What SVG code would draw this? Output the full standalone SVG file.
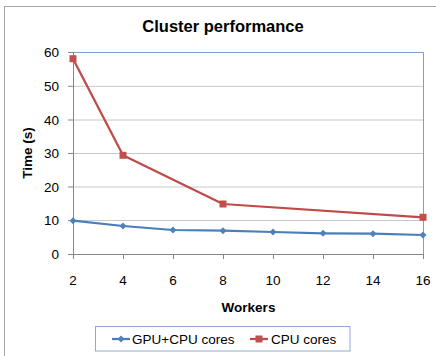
<svg xmlns="http://www.w3.org/2000/svg" width="436" height="356" viewBox="0 0 436 356">
  <style>
    .lbl { font-family: "Liberation Sans", Arial, sans-serif; font-size: 13.5px; fill: #000; }
    .bold { font-weight: bold; }
    .grid { stroke: #C8C8C8; stroke-width: 1; }
    .axis { stroke: #868686; stroke-width: 1; fill: none; }
    .frame { stroke: #7E9ED0; stroke-width: 1; fill: none; }
    .gpu { stroke: #4A7EBB; stroke-width: 2.25; fill: none; stroke-linejoin: round; }
    .cpu { stroke: #BE4B48; stroke-width: 2.25; fill: none; stroke-linejoin: round; }
  </style>
  <defs>
    <marker id="diamond" viewBox="-4 -4 8 8" markerWidth="8" markerHeight="8" markerUnits="userSpaceOnUse" refX="0" refY="0">
      <path d="M0,-3.5 L3.5,0 L0,3.5 L-3.5,0 Z" fill="#4F81BD"/>
    </marker>
    <marker id="square" viewBox="-4 -4 8 8" markerWidth="8" markerHeight="8" markerUnits="userSpaceOnUse" refX="0" refY="0">
      <rect x="-3.5" y="-3.5" width="7" height="7" fill="#C0504D"/>
    </marker>
  </defs>

  <rect x="0" y="0" width="436" height="356" fill="#fff"/>
  <!-- chart border -->
  <rect x="4.5" y="6.5" width="440" height="360" fill="none" stroke="#A6A6A6" stroke-width="1"/>

  <text class="lbl bold" x="223" y="32" text-anchor="middle" style="font-size:16.5px">Cluster performance</text>

  <!-- gridlines -->
  <g id="gridlines">
    <line class="grid" x1="73" y1="86.3" x2="423" y2="86.3"/>
    <line class="grid" x1="73" y1="120" x2="423" y2="120"/>
    <line class="grid" x1="73" y1="153.5" x2="423" y2="153.5"/>
    <line class="grid" x1="73" y1="187" x2="423" y2="187"/>
    <line class="grid" x1="73" y1="220.5" x2="423" y2="220.5"/>
  </g>

  <!-- plot frame -->
  <path class="frame" d="M73,52.5 H423.5 V254"/>

  <!-- axes with ticks -->
  <g id="axes">
    <path class="axis" d="M73.5,52 V254.5 H423"/>
    <path class="axis" d="M68,52.5 H73 M68,86.3 H73 M68,120 H73 M68,153.5 H73 M68,187 H73 M68,220.5 H73 M68,254.5 H73"/>
    <path class="axis" d="M73.5,254 V259 M123.5,254 V259 M173.5,254 V259 M223.5,254 V259 M273.5,254 V259 M323.5,254 V259 M373.5,254 V259 M423.5,254 V259"/>
  </g>

  <!-- y tick labels -->
  <g id="y-labels" class="lbl" text-anchor="end">
    <text x="59" y="57">60</text>
    <text x="59" y="91">50</text>
    <text x="59" y="124.5">40</text>
    <text x="59" y="158">30</text>
    <text x="59" y="191.5">20</text>
    <text x="59" y="225">10</text>
    <text x="59" y="259">0</text>
  </g>

  <!-- x tick labels -->
  <g id="x-labels" class="lbl" text-anchor="middle">
    <text x="73" y="285">2</text>
    <text x="123" y="285">4</text>
    <text x="173" y="285">6</text>
    <text x="223" y="285">8</text>
    <text x="273" y="285">10</text>
    <text x="323" y="285">12</text>
    <text x="373" y="285">14</text>
    <text x="423" y="285">16</text>
  </g>

  <text class="lbl bold" x="248.5" y="311.5" text-anchor="middle">Workers</text>
  <text class="lbl bold" x="31.5" y="153" text-anchor="middle" transform="rotate(-90 31.5 153)">Time (s)</text>

  <!-- data series -->
  <g id="connectors">
    <polyline id="series-gpu" class="gpu" marker-start="url(#diamond)" marker-mid="url(#diamond)" marker-end="url(#diamond)"
      points="73,220.7 123,226 173,230 223,230.7 273,232 323,233.3 373,233.7 423,235"/>
    <polyline id="series-cpu" class="cpu" marker-start="url(#square)" marker-mid="url(#square)" marker-end="url(#square)"
      points="73,58.7 123,155.3 223,204 423,217.3"/>
  </g>

  <!-- legend -->
  <g id="legend">
    <rect x="95.5" y="326.5" width="254.5" height="24.5" fill="#fff" stroke="#8EA9D8" stroke-width="1"/>
    <line class="gpu" x1="112" y1="339" x2="130" y2="339" marker-mid="url(#diamond)"/>
    <path d="M121,335.5 L124.5,339 L121,342.5 L117.5,339 Z" fill="#4F81BD"/>
    <text class="lbl" x="132" y="344">GPU+CPU cores</text>
    <line class="cpu" x1="250" y1="339" x2="268" y2="339"/>
    <rect x="255.5" y="335.5" width="7" height="7" fill="#C0504D"/>
    <text class="lbl" x="271" y="344">CPU cores</text>
  </g>
</svg>
